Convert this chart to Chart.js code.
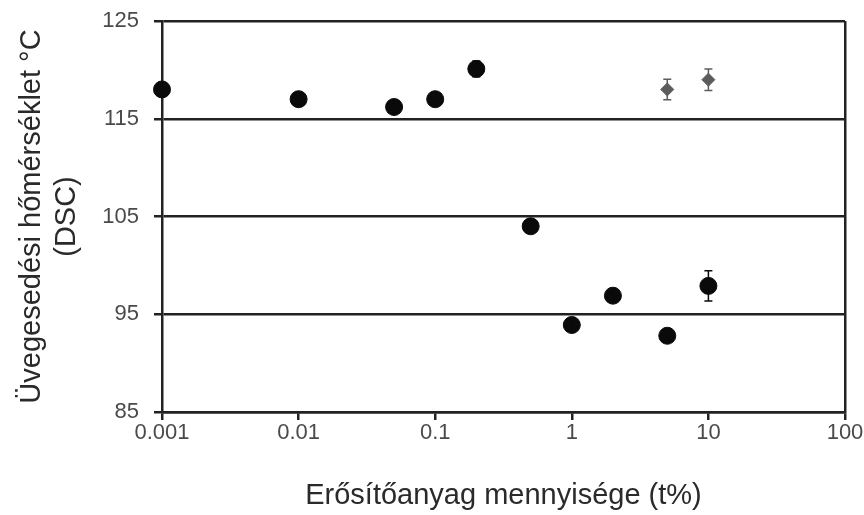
<!DOCTYPE html>
<html>
<head>
<meta charset="utf-8">
<script src="https://cdn.jsdelivr.net/npm/chart.js@4/dist/chart.umd.min.js"></script>
<style>
  html, body { margin: 0; padding: 0; background: #fff; }
  #wrap { width: 864px; height: 515px; }
</style>
</head>
<body>
<div id="wrap"><canvas id="tg"></canvas></div>
<script>
// concentration of filler (t%) and glass transition temperature (DSC)
var conc = [0.001, 0.01, 0.05, 0.1, 0.2, 0.5, 1, 2, 5, 10];
var tgMain = [118, 117, 116.2, 117, 120.1, 104, 93.9, 96.9, 92.8, 97.9];
var errMain = [0.5, 0.5, 0.6, 0.5, 0.8, 0.5, 0.6, 0.6, 0.6, 1.55];

var concGrey = [5, 10];
var tgGrey = [118, 119];
var errGrey = [1.05, 1.1];

var xTicks = [0.001, 0.01, 0.1, 1, 10, 100];
var xTickLabels = ['0.001', '0.01', '0.1', '1', '10', '100'];
var yTicks = [85, 95, 105, 115, 125];

var dark = '#222222';
var fontFam = 'Liberation Sans, Arial, sans-serif';

function toPoints(xs, ys, es) {
    return xs.map(function(x, i) { return { x: x, y: ys[i], err: es[i] }; });
}

// draws vertical error bars from the data through the y scale
var errorBars = {
    id: 'errorBars',
    afterDatasetsDraw: function(chart) {
        var ctx = chart.ctx;
        var yScale = chart.scales.y;
        chart.data.datasets.forEach(function(ds, di) {
            var meta = chart.getDatasetMeta(di);
            ctx.save();
            ctx.strokeStyle = ds.borderColor;
            ctx.lineWidth = 1.5;
            meta.data.forEach(function(pt, i) {
                var d = ds.data[i];
                var top = yScale.getPixelForValue(d.y + d.err);
                var bot = yScale.getPixelForValue(d.y - d.err);
                ctx.beginPath();
                ctx.moveTo(pt.x, top); ctx.lineTo(pt.x, bot);
                ctx.moveTo(pt.x - 4, top); ctx.lineTo(pt.x + 4, top);
                ctx.moveTo(pt.x - 4, bot); ctx.lineTo(pt.x + 4, bot);
                ctx.stroke();
            });
            ctx.restore();
        });
    }
};

var chart = new Chart(document.getElementById('tg'), {
    type: 'scatter',
    data: {
        datasets: [
            {
                data: toPoints(conc, tgMain, errMain),
                backgroundColor: '#0a0a0a',
                borderColor: '#0a0a0a',
                pointRadius: 8.5,
                pointHoverRadius: 8.5,
                clip: false
            },
            {
                data: toPoints(concGrey, tgGrey, errGrey),
                backgroundColor: '#5c5c5c',
                borderColor: '#5c5c5c',
                pointStyle: 'rectRot',
                pointRadius: 6.5,
                pointHoverRadius: 6.5,
                clip: false
            }
        ]
    },
    options: {
        responsive: true,
        maintainAspectRatio: false,
        animation: false,
        layout: { padding: { top: 21, right: 19, left: 0, bottom: 0 } },
        plugins: {
            legend: { display: false },
            tooltip: { enabled: false }
        },
        scales: {
            x: {
                type: 'logarithmic',
                min: 0.001,
                max: 100,
                afterBuildTicks: function(scale) {
                    scale.ticks = xTicks.map(function(v) { return { value: v }; });
                },
                afterFit: function(scale) { scale.height = 103; },
                ticks: {
                    color: '#4a4a4a',
                    font: { family: fontFam, size: 22 },
                    padding: 0,
                    maxRotation: 0,
                    autoSkip: false,
                    callback: function(value, index) { return xTickLabels[index]; }
                },
                grid: {
                    color: function(c) { return c.tick && c.tick.value === 100 ? dark : 'rgba(0,0,0,0)'; },
                    tickColor: dark,
                    lineWidth: 2.5,
                    tickLength: 8
                },
                border: { display: true, color: dark, width: 2.5 },
                title: {
                    display: true,
                    text: 'Erősítőanyag mennyisége (t%)',
                    color: '#2a2a2a',
                    font: { family: fontFam, size: 29, lineHeight: 1.2 },
                    padding: { top: 10, bottom: 2 }
                }
            },
            y: {
                min: 85,
                max: 125,
                afterBuildTicks: function(scale) {
                    scale.ticks = yTicks.map(function(v) { return { value: v }; });
                },
                afterFit: function(scale) {
                    scale.width = 162;
                    scale.paddingTop = 0;
                    scale.paddingBottom = 0;
                },
                ticks: {
                    color: '#4a4a4a',
                    font: { family: fontFam, size: 22 },
                    padding: 15
                },
                grid: {
                    color: dark,
                    lineWidth: 2.5,
                    tickLength: 8
                },
                border: { display: true, color: dark, width: 2.5 },
                title: {
                    display: true,
                    text: ['Üvegesedési hőmérséklet °C', '(DSC)'],
                    color: '#2a2a2a',
                    font: { family: fontFam, size: 29, lineHeight: 1.2 },
                    padding: { top: 15, bottom: 0 }
                }
            }
        }
    },
    plugins: [errorBars]
});
</script>
</body>
</html>
